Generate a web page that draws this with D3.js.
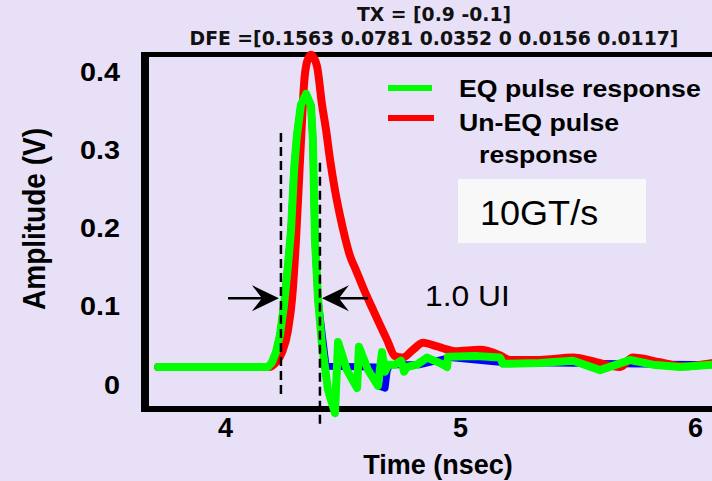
<!DOCTYPE html>
<html><head><meta charset="utf-8">
<script src="https://cdn.jsdelivr.net/npm/d3@7"></script>
<style>html,body{margin:0;padding:0;background:#E7E0F7;} svg{display:block}</style>
</head><body><svg id="c" width="712" height="481"></svg>
<script>
// ---- data ----
const xTicks = [4, 5, 6];
const yTicks = [0, 0.1, 0.2, 0.3, 0.4];
const titleLines = ["TX = [0.9 -0.1]", "DFE =[0.1563 0.0781 0.0352 0 0.0156 0.0117]"];
const xLabel = "Time (nsec)";
const yLabel = "Amplitude (V)";
const legendLabels = ["EQ pulse response", "Un-EQ pulse", "response"];
const rateLabel = "10GT/s";
const uiLabel = "1.0 UI";

const eqTime = [3.715,4.183,4.200,4.217,4.234,4.251,4.268,4.281,4.294,4.306,4.323,4.345,4.366,4.374,4.383,4.396,4.413,4.438,4.468,4.481,4.519,4.562,4.570,4.609,4.651,4.668,4.681,4.694,4.723,4.749,4.762,4.774,4.817,4.860,4.915,4.945,4.949,5.064,5.170,5.183,5.340,5.481,5.596,5.723,5.821,5.936,6.072];
const eqAmp  = [0.023,0.023,0.029,0.042,0.064,0.102,0.153,0.198,0.275,0.319,0.358,0.372,0.357,0.313,0.185,0.109,0.051,-0.006,-0.036,0.055,0.019,-0.004,0.049,0.019,-0.001,0.042,0.017,0.026,0.026,0.031,0.017,0.023,0.026,0.035,0.028,0.023,0.036,0.037,0.035,0.027,0.028,0.031,0.019,0.032,0.026,0.023,0.026];

const unTime = [3.715,4.191,4.217,4.243,4.268,4.285,4.302,4.315,4.328,4.336,4.349,4.366,4.391,4.413,4.430,4.447,4.468,4.489,4.511,4.532,4.557,4.587,4.630,4.689,4.723,4.757,4.800,4.843,4.885,4.928,4.979,5.085,5.170,5.213,5.340,5.481,5.583,5.681,5.736,5.851,5.949,6.072];
const unAmp  = [0.023,0.023,0.029,0.042,0.070,0.109,0.185,0.262,0.339,0.383,0.413,0.422,0.408,0.358,0.326,0.288,0.249,0.217,0.188,0.165,0.147,0.125,0.096,0.058,0.037,0.035,0.045,0.054,0.051,0.047,0.043,0.045,0.038,0.032,0.032,0.035,0.029,0.023,0.035,0.029,0.024,0.028];

const dfeTime = [3.715,4.183,4.200,4.217,4.234,4.251,4.268,4.281,4.294,4.306,4.323,4.345,4.366,4.374,4.383,4.396,4.430,4.640,4.651,4.681,4.690,4.700,4.830,4.957,5.170,6.072];
const dfeAmp  = [0.023,0.023,0.029,0.042,0.064,0.102,0.153,0.198,0.275,0.319,0.358,0.372,0.357,0.313,0.185,0.109,0.024,0.023,-0.001,-0.004,0.018,0.026,0.026,0.035,0.029,0.026];

const cursorTime = [4.238, 4.404];
const cursorTop = [0.322, 0.284];
const cursorBottom = [-0.014, -0.055];
const arrowLevel = 0.111;
const arrowTail = [4.013, 4.609];

// ---- layout ----
const svg = d3.select("#c");
const W = 712, H = 481;
const frame = {left:145, top:54.5, bottom:409, right:712};
const x = d3.scaleLinear().domain([4, 6]).range([225, 695]);
const y = d3.scaleLinear().domain([0, 0.4]).range([385, 72]);

svg.append("rect").attr("width", W).attr("height", H).attr("fill", "#E7E0F7");

const sans = "'Liberation Sans', Arial, Helvetica, sans-serif";

// title
svg.append("g").selectAll("text").data(titleLines).join("text")
  .attr("x", 434).attr("y", (d,i) => 21 + i*24)
  .attr("text-anchor", "middle")
  .attr("font-family", "'DejaVu Sans', Verdana, sans-serif")
  .attr("font-weight", "bold").attr("font-size", 18.8)
  .attr("fill", "#111")
  .text(d => d);

// frame
svg.append("line").attr("x1", 141).attr("x2", frame.right).attr("y1", frame.top).attr("y2", frame.top)
  .attr("stroke", "#000").attr("stroke-width", 5);
svg.append("line").attr("x1", frame.left).attr("x2", frame.left).attr("y1", 57).attr("y2", 412)
  .attr("stroke", "#000").attr("stroke-width", 8);
svg.append("line").attr("x1", 141).attr("x2", frame.right).attr("y1", frame.bottom).attr("y2", frame.bottom)
  .attr("stroke", "#000").attr("stroke-width", 6);

// axes
const gx = svg.append("g").attr("transform", `translate(0,${frame.bottom})`)
  .call(d3.axisBottom(x).tickValues(xTicks).tickSize(0).tickPadding(9).tickFormat(d3.format("d")));
gx.select(".domain").remove();
gx.selectAll("text").attr("font-family", sans).attr("font-weight", "bold").attr("font-size", 27).attr("fill", "#000");

const gy = svg.append("g").attr("transform", `translate(${frame.left},0)`)
  .call(d3.axisLeft(y).tickValues(yTicks).tickSize(0).tickPadding(0).tickFormat(d => d === 0 ? "0" : d3.format(".1f")(d)));
gy.select(".domain").remove();
gy.selectAll("text").attr("x", null).attr("transform", "translate(-25,0) scale(1.15,1)")
  .attr("font-family", sans).attr("font-weight", "bold").attr("font-size", 25).attr("fill", "#000");

svg.append("text").attr("x", 438).attr("y", 474).attr("text-anchor", "middle")
  .attr("font-family", sans).attr("font-weight", "bold").attr("font-size", 27).attr("fill", "#000").text(xLabel);
svg.append("text").attr("transform", "translate(45,219) scale(1.1,1) rotate(-90)").attr("text-anchor", "middle")
  .attr("font-family", sans).attr("font-weight", "bold").attr("font-size", 28).attr("fill", "#000").text(yLabel);

// curves
const zip = (a, b) => a.map((t, i) => [t, b[i]]);
const curves = [
  {t: dfeTime, v: dfeAmp, c: "#0000FF", w: 7, smooth: false},
  {t: unTime, v: unAmp, c: "#FF0000", w: 8, smooth: true},
  {t: eqTime, v: eqAmp, c: "#00FF00", w: 8, smooth: false}
];
svg.append("g").selectAll("path").data(curves).join("path")
  .attr("d", d => d3.line().x(p => x(p[0])).y(p => y(p[1]))
      .curve(d.smooth ? d3.curveMonotoneX : d3.curveLinear)(zip(d.t, d.v)))
  .attr("fill", "none").attr("stroke", d => d.c).attr("stroke-width", d => d.w)
  .attr("stroke-linejoin", "round").attr("stroke-linecap", "round");

// cursors
svg.append("g").selectAll("line").data(cursorTime).join("line")
  .attr("x1", d => x(d)).attr("x2", d => x(d))
  .attr("y1", (d,i) => y(cursorTop[i])).attr("y2", (d,i) => y(cursorBottom[i]))
  .attr("stroke", "#000").attr("stroke-width", 2.5).attr("stroke-dasharray", "9,5");

// arrows
const ay = y(arrowLevel);
const ag = svg.append("g");
cursorTime.forEach((t, i) => {
  const tip = x(t) + (i === 0 ? -2 : 2);
  const tail = x(arrowTail[i]);
  const dir = tail < tip ? 1 : -1;
  ag.append("line").attr("x1", tail).attr("x2", tip - dir*14).attr("y1", ay).attr("y2", ay)
    .attr("stroke", "#000").attr("stroke-width", 2.5);
  ag.append("path")
    .attr("d", `M${tip},${ay} L${tip - dir*27},${ay + 13} L${tip - dir*17},${ay} L${tip - dir*27},${ay - 13} Z`)
    .attr("fill", "#000");
});

// legend
const lg = svg.append("g");
lg.append("line").attr("x1", 388).attr("x2", 432).attr("y1", 88).attr("y2", 88).attr("stroke", "#00FF00").attr("stroke-width", 6);
lg.append("line").attr("x1", 388).attr("x2", 434).attr("y1", 118).attr("y2", 118).attr("stroke", "#FF0000").attr("stroke-width", 6);
lg.selectAll("text").data(legendLabels).join("text")
  .attr("transform", (d,i) => `translate(${i === 2 ? 479 : 459},${[97, 131, 163][i]}) scale(1.09,1)`)
  .attr("font-family", sans).attr("font-weight", "bold").attr("font-size", 24.5).attr("fill", "#000")
  .text(d => d);

// rate box
svg.append("rect").attr("x", 458).attr("y", 179).attr("width", 188).attr("height", 64).attr("fill", "#F8F8F8");
svg.append("text").attr("transform", "translate(480,225) scale(1.03,1)").attr("font-family", sans).attr("font-size", 35).attr("fill", "#000").text(rateLabel);

// UI label
svg.append("text").attr("transform", "translate(425,306) scale(1.06,1)").attr("font-family", sans).attr("font-size", 30).attr("fill", "#000").text(uiLabel);
</script></body></html>
